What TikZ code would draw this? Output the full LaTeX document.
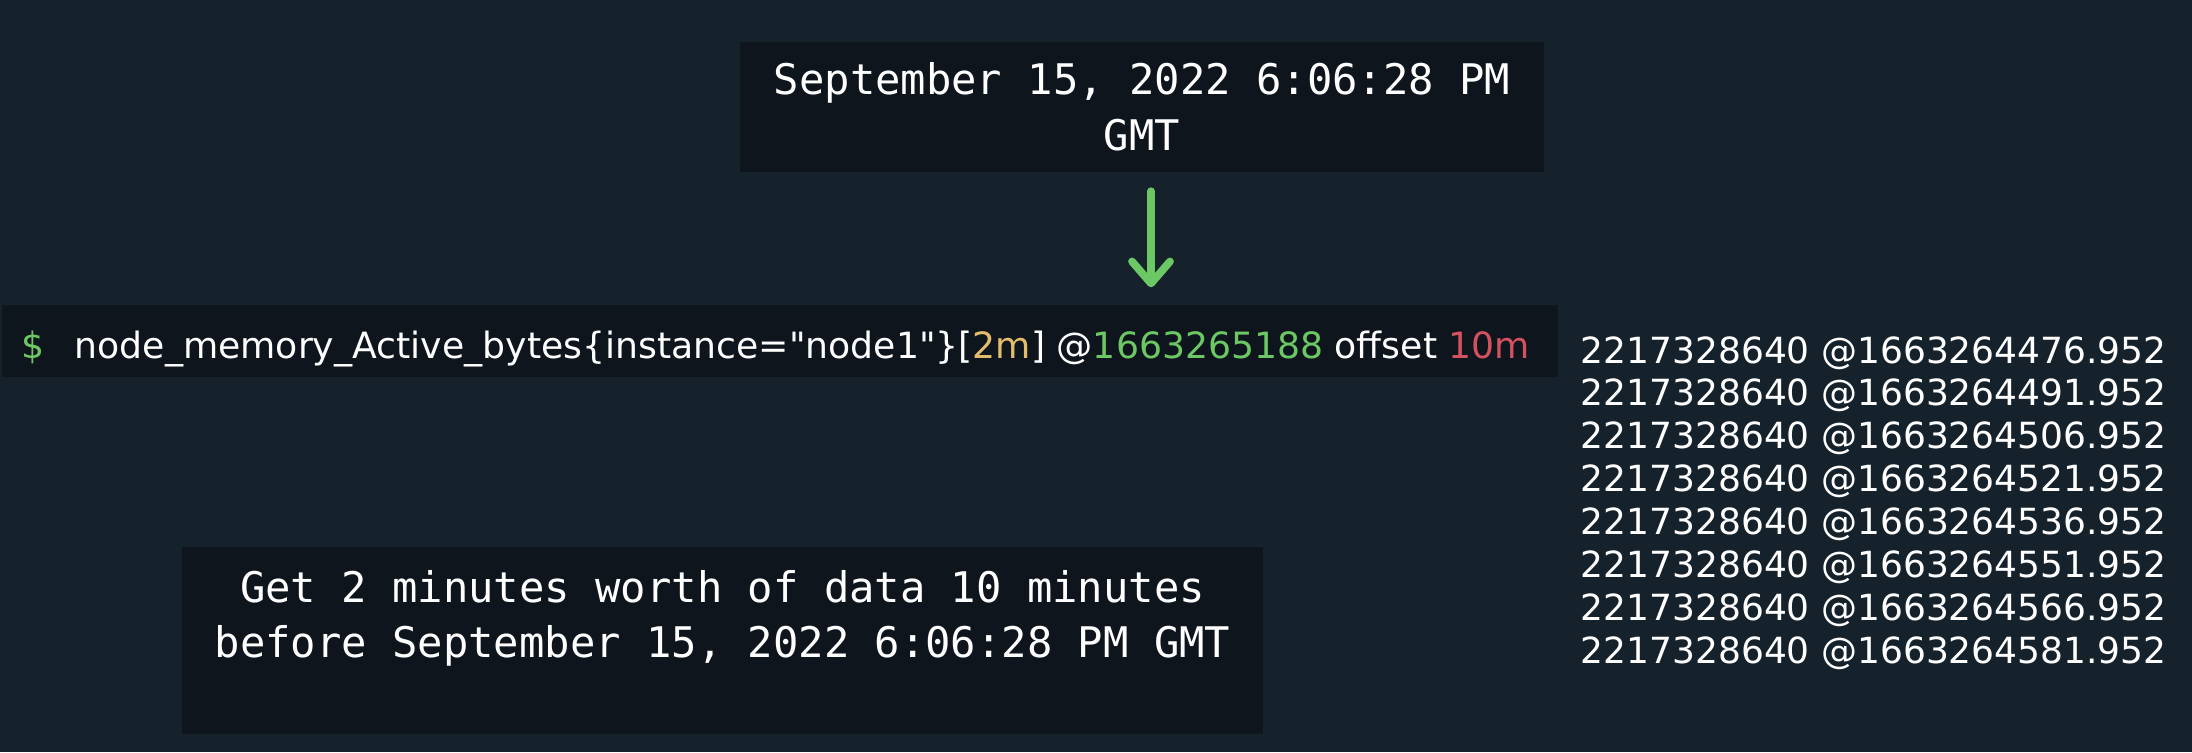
\documentclass[tikz,border=0pt]{standalone}
\usepackage{fontspec}
\setsansfont{DejaVu Sans}
\setmonofont{DejaVu Sans Mono}
\usetikzlibrary{arrows.meta,positioning}
\definecolor{bgnavy}{HTML}{16222B}
\definecolor{boxnavy}{HTML}{0F151D}
\definecolor{termgreen}{HTML}{6CC864}
\definecolor{termyellow}{HTML}{E3BE6A}
\definecolor{termred}{HTML}{D4525F}

\tikzset{
	panel/.style={fill=boxnavy, inner sep=0pt},
	monotext/.style={text=white, font=\fontsize{12}{15.8}\selectfont\ttfamily, align=center, inner sep=0pt},
	cmdtext/.style={text=white, font=\fontsize{10.3}{12}\selectfont\sffamily, inner sep=0pt},
	valtext/.style={text=white, font=\fontsize{10.25}{12}\selectfont\sffamily, inner sep=0pt},
	flow/.style={draw=termgreen, line width=2.2pt, line cap=round, -{Straight Barb[length=2.2mm,width=3.8mm,round]}}
}

\begin{document}
\begin{tikzpicture}
		%%%%% START %%%%%
		
		\fill[bgnavy] (0, 0) rectangle (21.92, 7.52);
		
		% timestamp
		\node[panel, monotext, minimum width=8.04cm, minimum height=1.30cm] (date) at (11.42, 6.45) {September 15, 2022 6:06:28 PM\\GMT};
		
		% query line
		\node[panel, minimum width=15.56cm, minimum height=0.72cm] (cmdbox) at (7.80, 4.11) {};
		\node[cmdtext, text=termgreen, anchor=base west] (prompt) at (0.21, 3.94) {\$};
		\node[cmdtext, anchor=base west] (query) at (0.74, 3.94) {node\_memory\_Active\_bytes\{instance=\textquotedbl node1\textquotedbl\}[\textcolor{termyellow}{2m}] @\textcolor{termgreen}{1663265188} offset \textcolor{termred}{10m}};
		
		\coordinate (arrowtop) at ([xshift=0.09cm]date.south);
		\draw[flow, shorten <=0.185cm, shorten >=0.17cm] (arrowtop) -- (arrowtop |- cmdbox.north);
		
		% explanation
		\node[panel, minimum width=10.81cm, minimum height=1.87cm] (notebox) at (7.225, 1.115) {};
		\node[monotext, anchor=north] (note) at ([yshift=-0.23cm]notebox.north) {Get 2 minutes worth of data 10 minutes\\before September 15, 2022 6:06:28 PM GMT};
		
		% samples
		\foreach \t [count=\i from 0] in {476,491,506,521,536,551,566,581}
			\node[valtext, anchor=base west] (v\i) at (15.80, 3.89-0.4286*\i) {2217328640 @1663264\t.952};
		
		%%%%% END %%%%%
\end{tikzpicture}
\end{document}
